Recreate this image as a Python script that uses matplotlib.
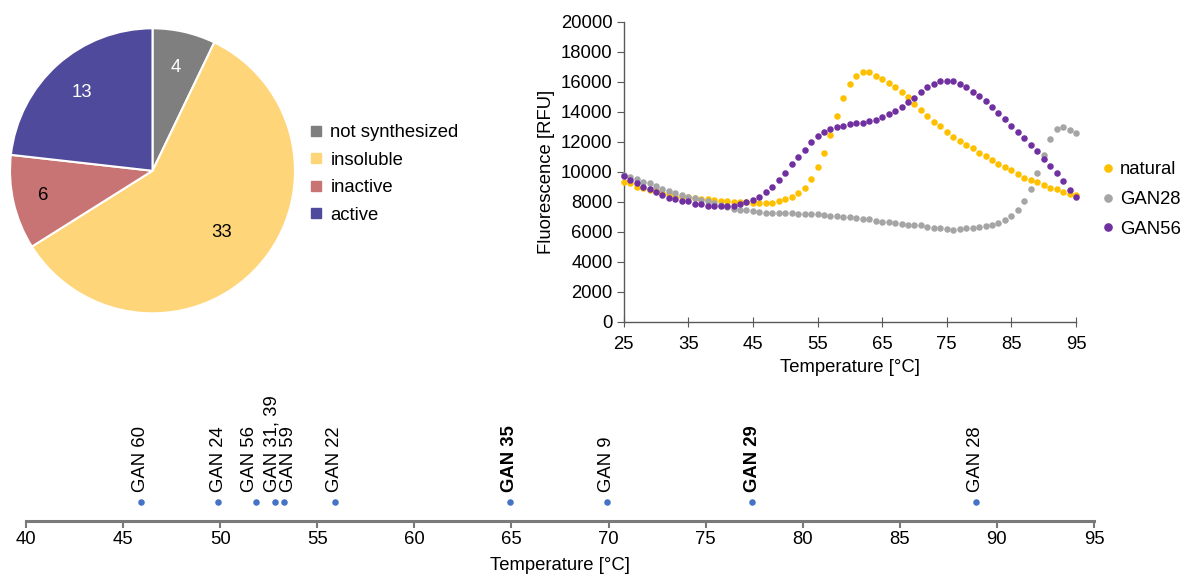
import matplotlib
matplotlib.use("Agg")
import matplotlib.pyplot as plt
from matplotlib.lines import Line2D
import numpy as np

plt.rcParams['font.family'] = ['Liberation Sans', 'DejaVu Sans']
FS = 13.3

# ---------------- data ----------------
pie_labels = ["not synthesized", "insoluble", "inactive", "active"]
pie_values = [4, 33, 6, 13]
pie_colors = ["#7F7F7F", "#FFD57A", "#C97474", "#504A9C"]
pie_text_colors = ["white", "black", "black", "white"]

temps = list(range(25, 96))
natural = [9345, 9230, 9010, 8900, 8800, 8700, 8600, 8500, 8400, 8340,
           8300, 8250, 8200, 8170, 8120, 8080, 8040, 8010, 7980, 7960,
           7950, 7940, 7940, 7940, 8050, 8165, 8340, 8565, 8900, 9500,
           10300, 11280, 12480, 13750, 14950, 15840, 16420, 16640, 16640, 16420,
           16220, 15930, 15640, 15330, 14970, 14530, 14130, 13750, 13350, 13060,
           12680, 12350, 12080, 11770, 11590, 11280, 11080, 10790, 10520, 10320,
           10120, 9830, 9610, 9430, 9320, 9140, 8920, 8830, 8630, 8520,
           8430]
gan28 = [9800, 9680, 9500, 9345, 9230, 9050, 8830, 8720, 8610, 8455,
         8340, 8230, 8120, 8050, 7940, 7810, 7630, 7520, 7450, 7450,
         7390, 7340, 7280, 7280, 7280, 7280, 7230, 7160, 7160, 7160,
         7160, 7120, 7050, 7050, 7010, 6960, 6900, 6850, 6830, 6740,
         6680, 6650, 6560, 6520, 6470, 6450, 6450, 6340, 6250, 6230,
         6160, 6140, 6160, 6250, 6250, 6340, 6390, 6470, 6560, 6760,
         7050, 7430, 8030, 8830, 9900, 11100, 12170, 12860, 12980, 12780,
         12570]
gan56 = [9745, 9460, 9230, 9010, 8860, 8630, 8455, 8255, 8165, 8050,
         8050, 7850, 7850, 7740, 7740, 7740, 7740, 7740, 7850, 7960,
         8120, 8340, 8630, 9010, 9430, 9900, 10500, 11010, 11480, 11970,
         12370, 12660, 12880, 12970, 13060, 13170, 13260, 13260, 13370, 13480,
         13680, 13860, 14060, 14350, 14660, 14950, 15330, 15640, 15840, 16040,
         16040, 16040, 15840, 15640, 15330, 15040, 14750, 14350, 13950, 13550,
         13060, 12660, 12280, 11770, 11370, 10880, 10410, 9900, 9410, 8810,
         8340]
series_names = ["natural", "GAN28", "GAN56"]
series_colors = ["#FFC000", "#A5A5A5", "#7030A0"]

tm_names = ["GAN 60", "GAN 24", "GAN 56", "GAN 31, 39", "GAN 59", "GAN 22",
            "GAN 35", "GAN 9", "GAN 29", "GAN 28"]
tm_values = [45.9, 49.9, 51.85, 52.8, 53.3, 55.9, 64.9, 69.9, 77.4, 88.9]
tm_bold = [False, False, False, False, False, False, True, False, True, False]

# ---------------- figure ----------------
W, H = 1185, 578
fig = plt.figure(figsize=(W / 100, H / 100), dpi=100)

def px_axes(left, top, right, bottom):
    return fig.add_axes([left / W, 1 - bottom / H, (right - left) / W, (bottom - top) / H])

# ---- pie ----
axp = px_axes(10, 28.3, 295, 313.3)
wedges, _ = axp.pie(pie_values, colors=pie_colors, startangle=90, counterclock=False,
                    wedgeprops=dict(edgecolor="white", linewidth=1.5))
axp.set_xlim(-1, 1)
axp.set_ylim(-1, 1)
axp.set_aspect("equal")
label_r = [0.74, 0.65, 0.79, 0.74]
for w, v, c, r in zip(wedges, pie_values, pie_text_colors, label_r):
    ang = np.deg2rad((w.theta1 + w.theta2) / 2)
    axp.text(r * np.cos(ang), r * np.sin(ang), str(v), color=c, fontsize=FS,
             ha="center", va="center")
handles = [Line2D([], [], marker="s", linestyle="none", markersize=7.5,
                  markerfacecolor=c, markeredgecolor=c) for c in pie_colors]
fig.legend(handles, pie_labels, loc="center left",
           bbox_to_anchor=(300 / W, 1 - 174 / H), frameon=False, fontsize=FS,
           handlelength=0.7, handletextpad=0.45, labelspacing=0.56, borderpad=0)

# ---- line chart ----
axl = px_axes(623.7, 22, 1076, 321.7)
for vals, name, col in zip([natural, gan28, gan56], series_names, series_colors):
    axl.scatter(temps, vals, s=22, color=col, label=name, clip_on=False,
                linewidths=0, zorder=3)
axl.set_xlim(25, 95)
axl.set_ylim(0, 20000)
axl.set_xticks(range(25, 96, 10))
axl.set_yticks(range(0, 20001, 2000))
for s in ["top", "right"]:
    axl.spines[s].set_visible(False)
for s in ["left", "bottom"]:
    axl.spines[s].set_color("#595959")
    axl.spines[s].set_linewidth(1.0)
axl.tick_params(axis="y", direction="out", length=5, color="#595959", labelsize=FS, pad=3)
axl.tick_params(axis="x", direction="inout", length=7, color="#595959", labelsize=FS, pad=7)
axl.set_xlabel("Temperature [°C]", fontsize=FS, labelpad=4)
axl.set_ylabel("Fluorescence [RFU]", fontsize=FS, labelpad=4)
lh = [Line2D([], [], marker="o", linestyle="none", markersize=5.2,
             markerfacecolor=c, markeredgecolor=c) for c in series_colors]
fig.legend(lh, series_names, loc="center left",
           bbox_to_anchor=(1093 / W, 1 - 199.5 / H), frameon=False, fontsize=FS,
           handlelength=0.6, handletextpad=0.35, labelspacing=0.68, borderpad=0)

# ---- Tm timeline ----
axt = px_axes(26, 380, 1094, 521)
axt.set_xlim(40, 95)
axt.set_ylim(0, 141)
for s in ["top", "right", "left"]:
    axt.spines[s].set_visible(False)
axt.spines["bottom"].set_color("#7A7A7A")
axt.spines["bottom"].set_linewidth(2.2)
axt.set_yticks([])
axt.set_xticks(range(40, 96, 5))
axt.tick_params(axis="x", direction="out", length=5, width=1.5, color="#7A7A7A",
                labelsize=FS, pad=2)
axt.set_xlabel("Temperature [°C]", fontsize=FS, labelpad=7)
axt.scatter(tm_values, [19.5] * len(tm_values), s=22, color="#4472C4",
            linewidths=0, clip_on=False, zorder=3)
nudge_px = {"GAN 56": -7, "GAN 31, 39": -3, "GAN 59": 4}
for name, v, b in zip(tm_names, tm_values, tm_bold):
    dx = nudge_px.get(name, 0)
    axt.annotate(name, xy=(v, 29), xycoords="data", xytext=(dx * 0.72, 0),
                 textcoords="offset points", rotation=90, ha="center", va="bottom",
                 fontsize=FS, fontweight="bold" if b else "normal")

fig.savefig("out.png", dpi=100)
